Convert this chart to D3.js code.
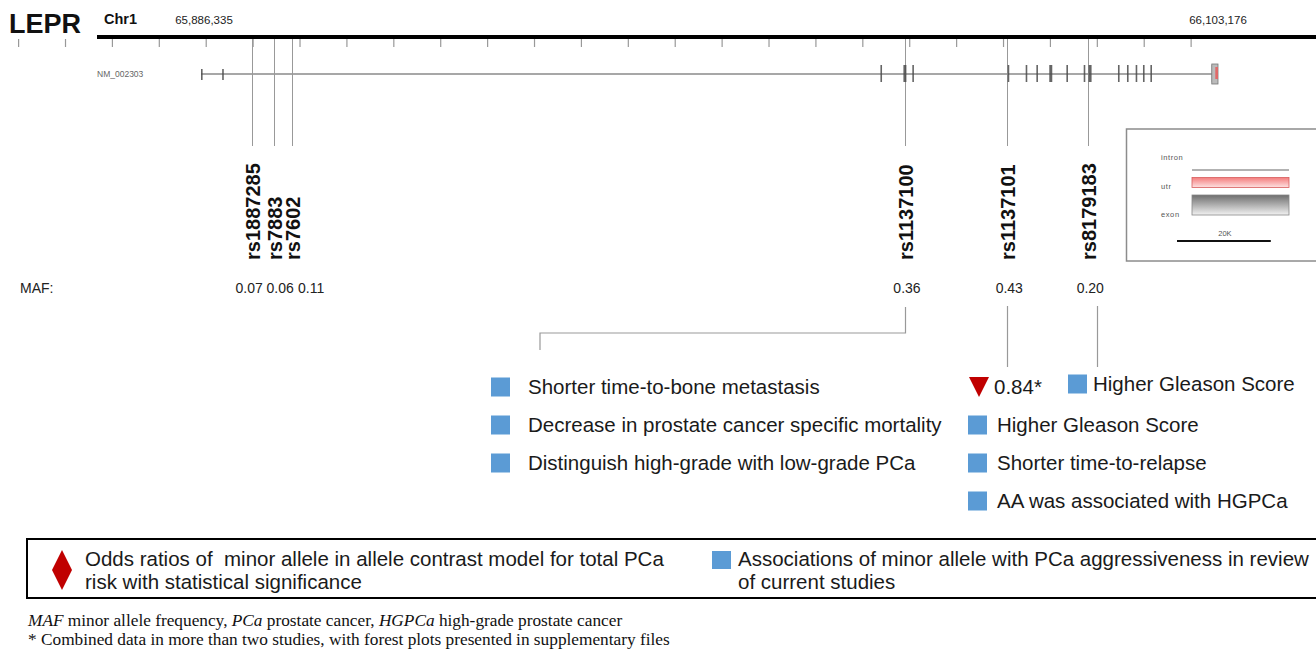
<!DOCTYPE html>
<html><head><meta charset="utf-8">
<script src="https://cdn.jsdelivr.net/npm/d3@7"></script>
<style>
html,body{margin:0;padding:0;background:#fff;}
svg{display:block;font-family:"Liberation Sans",Arial,sans-serif;}
text{white-space:pre;}
</style></head>
<body>
<svg id="chart" width="1316" height="650"></svg>
<script>
// ---------------- data ----------------
const geneName = "LEPR";
const chromName = "Chr1";
const transcriptId = "NM_002303";
const geneStart = 65886335;
const geneEnd = 66103176;
const rulerTickStart = 65867340;   // first ruler tick (bp)
const rulerTickStep = 10000;        // ruler tick spacing (bp)
const rulerTickCount = 26;

const exonStarts  = [65886335, 65890850, 66031200, 66036100, 66038000, 66058330, 66062170, 66064450, 66067200, 66070850, 66074540, 66075580, 66081850, 66083770, 66085620, 66087180, 66088760, 66101850];
const exonLengths = [320, 320, 320, 640, 320, 320, 320, 320, 640, 320, 320, 640, 320, 320, 320, 320, 320, 750];
const exonKinds   = ["utr5", "utr5", "cds", "cds", "cds", "cds", "cds", "cds", "cds", "cds", "cds", "cds", "cds", "cds", "cds", "cds", "cds", "cds"];
const utr3Start = 66102600;

const snpIds = ["rs1887285", "rs7883", "rs7602", "rs1137100", "rs1137101", "rs8179183"];
const snpPos = [65897273, 65901963, 65905801, 66036435, 66058246, 66075516];
const snpMaf = ["0.07", "0.06", "0.11", "0.36", "0.43", "0.20"];

const annotSnps = ["rs1137100", "rs1137101", "rs8179183"];
const annotOddsRatio = ["", "0.84*", ""];
const annotRs1137100 = ["Shorter time-to-bone metastasis", "Decrease in prostate cancer specific mortality", "Distinguish high-grade with low-grade PCa"];
const annotRs1137101 = ["Higher Gleason Score", "Shorter time-to-relapse", "AA was associated with HGPCa"];
const annotRs8179183 = ["Higher Gleason Score"];

const legendLabels = ["intron", "utr", "exon"];
const scaleBarBp = 20000;
const scaleBarLabel = "20K";

const keyOddsText = ["Odds ratios of  minor allele in allele contrast model for total PCa", "risk with statistical significance"];
const keyAssocText = ["Associations of minor allele with PCa aggressiveness in review", "of current studies"];
const footnote2 = "* Combined data in more than two studies, with forest plots presented in supplementary files";

// ---------------- layout / style ----------------
const BLUE = "#5b9bd5", RED = "#c00000", GRAY = "#8a8a8a";
const svg = d3.select("#chart");
const x = d3.scaleLinear().domain([geneStart, geneEnd]).range([201, 1218]);

const defs = svg.append("defs");
const gUtr = defs.append("linearGradient").attr("id", "gUtr").attr("x1", 0).attr("y1", 0).attr("x2", 0).attr("y2", 1);
gUtr.append("stop").attr("offset", "0%").attr("stop-color", "#f47c7c");
gUtr.append("stop").attr("offset", "100%").attr("stop-color", "#fde2e2");
const gExon = defs.append("linearGradient").attr("id", "gExon").attr("x1", 0).attr("y1", 0).attr("x2", 0).attr("y2", 1);
gExon.append("stop").attr("offset", "0%").attr("stop-color", "#6e6e6e");
gExon.append("stop").attr("offset", "100%").attr("stop-color", "#f2f2f2");

// title texts
svg.append("text").attr("x", 9).attr("y", 33).attr("font-size", 27).attr("font-weight", "bold").attr("fill", "#111").text(geneName);
svg.append("text").attr("x", 104).attr("y", 24).attr("font-size", 14.5).attr("font-weight", "bold").attr("fill", "#111").text(chromName);
svg.append("text").attr("x", x(geneStart) + 3).attr("y", 24).attr("font-size", 11.5).attr("text-anchor", "middle").attr("fill", "#222").text(d3.format(",")(geneStart));
svg.append("text").attr("x", x(geneEnd)).attr("y", 24).attr("font-size", 11.5).attr("text-anchor", "middle").attr("fill", "#222").text(d3.format(",")(geneEnd));

// ruler
svg.append("line").attr("x1", 97).attr("x2", 1316).attr("y1", 37).attr("y2", 37).attr("stroke", "#000").attr("stroke-width", 4);
const tickVals = d3.range(rulerTickCount).map(i => rulerTickStart + (i - 2) * rulerTickStep);
const axis = d3.axisBottom(x).tickValues(tickVals).tickSize(8).tickFormat("");
const axG = svg.append("g").attr("transform", "translate(0,39)").call(axis);
axG.select(".domain").remove();
axG.selectAll(".tick line").attr("stroke", "#999").attr("stroke-width", 1.2);

// transcript label
svg.append("text").attr("x", 97).attr("y", 77).attr("font-size", 8.5).attr("fill", "#666").text(transcriptId);

// intron line
svg.append("line").attr("x1", x(geneStart)).attr("x2", x(geneEnd)).attr("y1", 74).attr("y2", 74).attr("stroke", GRAY).attr("stroke-width", 1.6);

// SNP vertical lines
svg.append("g").selectAll("line").data(snpPos).join("line")
  .attr("x1", d => Math.round(x(d)) + 0.5).attr("x2", d => Math.round(x(d)) + 0.5)
  .attr("y1", 39).attr("y2", 146).attr("stroke", "#999").attr("stroke-width", 1);

// exons
const exG = svg.append("g");
exonStarts.forEach((s, i) => {
  const x0 = x(s), w = Math.max(1.6, x(s + exonLengths[i]) - x0);
  const small = exonKinds[i] === "utr5";
  exG.append("rect").attr("x", x0).attr("width", w)
    .attr("y", small ? 69 : 65).attr("height", small ? 11 : 17)
    .attr("fill", "#4a4a4a").attr("opacity", 0.85);
});
// 3' utr
exG.append("rect").attr("x", x(exonStarts[exonStarts.length - 1])).attr("y", 64)
  .attr("width", x(geneEnd) - x(exonStarts[exonStarts.length - 1])).attr("height", 20)
  .attr("fill", "#bbb").attr("stroke", "#777").attr("stroke-width", 0.8);
exG.append("rect").attr("x", x(utr3Start)).attr("y", 67).attr("width", x(geneEnd) - x(utr3Start)).attr("height", 12)
  .attr("fill", "#e06a6a");

// SNP labels (rotated)
svg.append("g").selectAll("text").data(snpIds).join("text")
  .attr("transform", (d, i) => `translate(${x(snpPos[i]) + 1},260) rotate(-90)`)
  .attr("dy", "0.35em").attr("font-size", 20).attr("font-weight", "bold").attr("fill", "#111")
  .text(d => d);

// MAF row
svg.append("text").attr("x", 20).attr("y", 293).attr("font-size", 14).attr("fill", "#222").text("MAF:");
const mafX = [];
snpPos.forEach((p, i) => {
  const px = x(p);
  mafX.push(i === 0 ? px : Math.max(px, mafX[i - 1] + 31));
});
// relax overlapping cluster back toward its anchors
const disp = mafX.map((m, i) => m - x(snpPos[i]));
const mafPlaced = mafX.slice();
let i0 = 0;
while (i0 < mafX.length) {
  let j = i0;
  while (j + 1 < mafX.length && disp[j + 1] > 0) j++;
  if (j > i0) {
    const mean = d3.mean(disp.slice(i0, j + 1)) / 2;
    for (let k = i0; k <= j; k++) mafPlaced[k] = mafX[k] - mean;
  }
  i0 = j + 1;
}
svg.append("g").selectAll("text").data(snpMaf).join("text")
  .attr("x", (d, i) => mafPlaced[i] + 2).attr("y", 293).attr("text-anchor", "middle")
  .attr("font-size", 14).attr("fill", "#222").text(d => d);

// connectors
const conn = svg.append("g").attr("fill", "none").attr("stroke", "#999").attr("stroke-width", 1.2);
const snpX = id => Math.round(x(snpPos[snpIds.indexOf(id)])) + 0.5;
conn.append("path").attr("d", `M${snpX("rs1137100")},307 V333 H540 V350`);
conn.append("path").attr("d", `M${snpX("rs1137101")},306 V367`);
conn.append("path").attr("d", `M${snpX("rs8179183") + 9},306 V367`);

// annotation blocks
const annotLayout = {
  rs1137100: { left: 491, gap: 37, y0: 387, items: annotRs1137100 },
  rs1137101: { left: 968, gap: 29, y0: 425, items: annotRs1137101 },
  rs8179183: { left: 1068, gap: 25, y0: 384, items: annotRs8179183 }
};
const rowStep = 38, sq = 19, fs = 20.5;
annotSnps.forEach((id, gi) => {
  const L = annotLayout[id];
  const g = svg.append("g");
  L.items.forEach((t, k) => {
    const cy = L.y0 + k * rowStep;
    g.append("rect").attr("x", L.left).attr("y", cy - sq / 2).attr("width", sq).attr("height", sq).attr("fill", BLUE);
    g.append("text").attr("x", L.left + L.gap).attr("y", cy).attr("dy", "0.35em").attr("font-size", fs).attr("fill", "#1a1a1a").text(t);
  });
  if (annotOddsRatio[gi]) {
    const cy = 387;
    g.append("path").attr("d", `M${L.left + 1},${cy - 10} H${L.left + 21} L${L.left + 11},${cy + 10} Z`).attr("fill", RED);
    g.append("text").attr("x", L.left + 26).attr("y", cy).attr("dy", "0.35em").attr("font-size", fs).attr("fill", "#1a1a1a").text(annotOddsRatio[gi]);
  }
});

// inset legend
const lg = svg.append("g");
lg.append("rect").attr("x", 1126.5).attr("y", 129).attr("width", 210).attr("height", 132).attr("fill", "#fff").attr("stroke", "#8c8c8c").attr("stroke-width", 1.5);
const lgY = [157, 186, 214];
legendLabels.forEach((t, i) => {
  lg.append("text").attr("x", 1161).attr("y", lgY[i]).attr("dy", "0.35em").attr("font-size", 7.5).attr("fill", "#555").attr("letter-spacing", 0.6).text(t);
});
lg.append("line").attr("x1", 1192).attr("x2", 1289).attr("y1", 170).attr("y2", 170).attr("stroke", "#999").attr("stroke-width", 1.5);
lg.append("rect").attr("x", 1192).attr("y", 177.5).attr("width", 97).attr("height", 10).attr("fill", "url(#gUtr)").attr("stroke", "#d85c5c").attr("stroke-width", 0.8);
lg.append("rect").attr("x", 1192).attr("y", 195).attr("width", 97).attr("height", 20).attr("fill", "url(#gExon)").attr("stroke", "#888").attr("stroke-width", 0.8);
const sbW = x(geneStart + scaleBarBp) - x(geneStart);
lg.append("line").attr("x1", 1177).attr("x2", 1177 + sbW).attr("y1", 241).attr("y2", 241).attr("stroke", "#111").attr("stroke-width", 2);
lg.append("text").attr("x", 1177 + sbW / 2 + 1).attr("y", 236).attr("text-anchor", "middle").attr("font-size", 7.5).attr("fill", "#555").text(scaleBarLabel);

// key box
const kb = svg.append("g");
kb.append("rect").attr("x", 27).attr("y", 539).attr("width", 1320).attr("height", 59).attr("fill", "none").attr("stroke", "#000").attr("stroke-width", 2);
kb.append("path").attr("d", "M62,550 L72,570 L62,590 L52,570 Z").attr("fill", RED);
keyOddsText.forEach((t, i) => kb.append("text").attr("x", 85).attr("y", 566 + i * 23).attr("font-size", 20.5).attr("fill", "#1a1a1a").text(t));
kb.append("rect").attr("x", 712).attr("y", 551).attr("width", 19).attr("height", 18).attr("fill", BLUE);
keyAssocText.forEach((t, i) => kb.append("text").attr("x", 738).attr("y", 566 + i * 23).attr("font-size", 20.5).attr("fill", "#1a1a1a").text(t));

// footnotes
const serif = "'Liberation Serif','Times New Roman',serif";
const fn1 = svg.append("text").attr("x", 28).attr("y", 626).attr("font-family", serif).attr("font-size", 17.3).attr("fill", "#111");
[["MAF", true], [" minor allele frequency, ", false], ["PCa", true], [" prostate cancer, ", false], ["HGPCa", true], [" high-grade prostate cancer", false]]
  .forEach(([t, it]) => fn1.append("tspan").attr("font-style", it ? "italic" : "normal").text(t));
svg.append("text").attr("x", 28).attr("y", 645).attr("font-family", serif).attr("font-size", 17.3).attr("fill", "#111").text(footnote2);
</script>
</body></html>
